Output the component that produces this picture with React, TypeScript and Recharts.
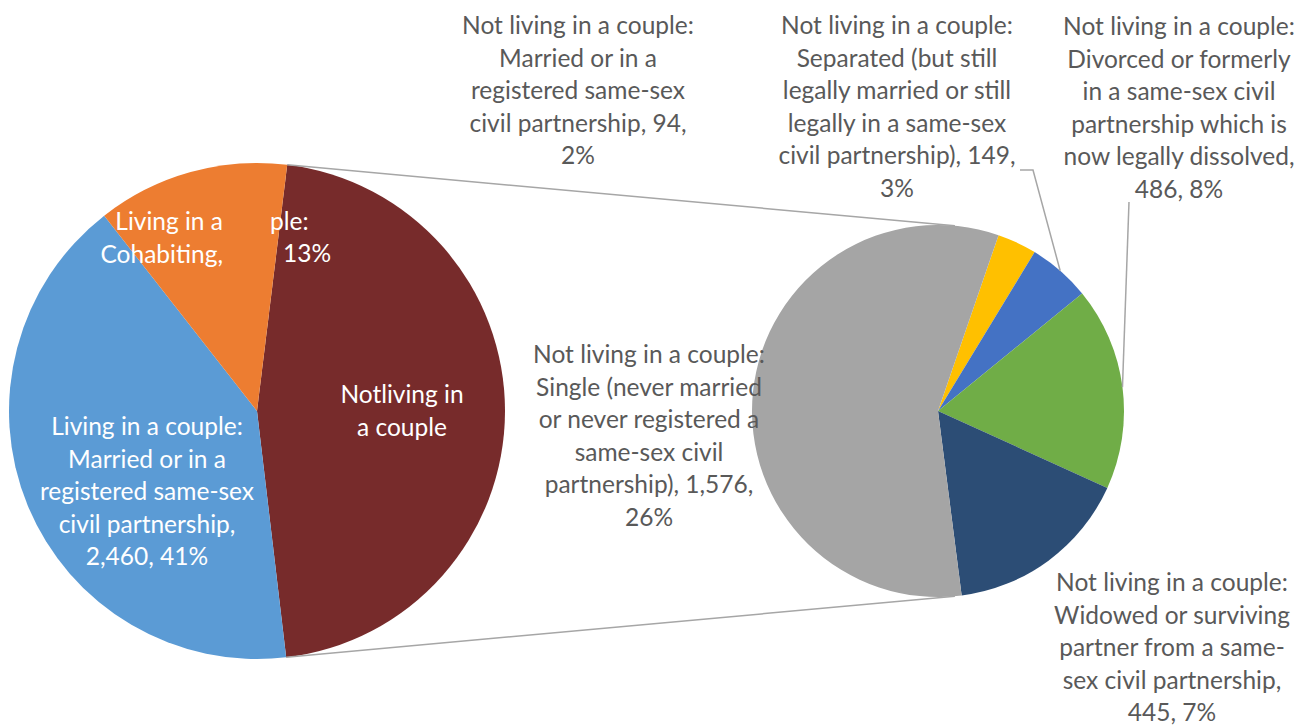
import React from 'react';
import { PieChart, Pie, Cell } from 'recharts';

// main pie (left)
const mainCategories = [
  'Not living in a couple',
  'Living in a couple: Married or in a registered same-sex civil partnership',
  'Living in a couple: Cohabiting',
];
const marriedValue = 2460;
const cohabitingValue = 745;

// breakdown of "Not living in a couple" (right pie)
const subCategories = [
  'Married or in a registered same-sex civil partnership',
  'Separated (but still legally married or still legally in a same-sex civil partnership)',
  'Divorced or formerly in a same-sex civil partnership which is now legally dissolved',
  'Widowed or surviving partner from a same-sex civil partnership',
  'Single (never married or never registered a same-sex civil partnership)',
];
const subValues = [94, 149, 486, 445, 1576];

// wrapped label text, {v} = value, {p} = percent
const subLabelLines = [
  ['Not living in a couple:', 'Married or in a', 'registered same-sex', 'civil partnership, {v},', '{p}'],
  ['Not living in a couple:', 'Separated (but still', 'legally married or still', 'legally in a same-sex', 'civil partnership), {v},', '{p}'],
  ['Not living in a couple:', 'Divorced or formerly', 'in a same-sex civil', 'partnership which is', 'now legally dissolved,', '{v}, {p}'],
  ['Not living in a couple:', 'Widowed or surviving', 'partner from a same-', 'sex civil partnership,', '{v}, {p}'],
  ['Not living in a couple:', 'Single (never married', 'or never registered a', 'same-sex civil', 'partnership), {v},', '{p}'],
];
const marriedLabelLines = ['Living in a couple:', 'Married or in a', 'registered same-sex', 'civil partnership,', '{v}, {p}'];
const notLivingLabelLines = ['Notliving in', 'a couple'];

const mainColors = ['#772B2B', '#5B9BD5', '#ED7D31'];
const subColors = ['#FFC000', '#4472C4', '#70AD47', '#2C4D75', '#A5A5A5'];

const notLivingTotal = subValues.reduce((a, b) => a + b, 0);
const grandTotal = notLivingTotal + marriedValue + cohabitingValue;

const mainData = [
  { name: mainCategories[0], value: notLivingTotal },
  { name: mainCategories[1], value: marriedValue },
  { name: mainCategories[2], value: cohabitingValue },
];
const subData = subCategories.map((name, i) => ({ name, value: subValues[i] }));

const LEFT = { cx: 257, cy: 411, r: 248 };
const RIGHT = { cx: 938, cy: 411, r: 186 };
const FONT = 'Lato, "Open Sans", sans-serif';
const FS = 24.5;
const LH = 32.6;
const GREY_TEXT = '#595959';
const LINE = '#A6A6A6';
const RAD = Math.PI / 180;

const subLabelPos = [
  { x: 578, y: 34 },
  { x: 897, y: 34, leader: [[1020, 170], [1033, 170]] },
  { x: 1179, y: 35, leader: [[1129, 202]] },
  { x: 1172, y: 591 },
  { x: 649, y: 363 },
];

const fmt = (v: number) => v.toLocaleString('en-US');
const pct = (v: number) => `${Math.round((v / grandTotal) * 100)}%`;
const fill = (s: string, v: number) => s.replace('{v}', fmt(v)).replace('{p}', pct(v));

const polar = (cx: number, cy: number, r: number, angle: number) => [
  cx + r * Math.cos(-angle * RAD),
  cy + r * Math.sin(-angle * RAD),
];

// tangent point on the right pie seen from (px, py); top = upper tangent
const tangent = (px: number, py: number, top: boolean) => {
  const dx = px - RIGHT.cx;
  const dy = py - RIGHT.cy;
  const d = Math.hypot(dx, dy);
  const phi = Math.atan2(dy, dx);
  const a = Math.acos(RIGHT.r / d);
  const p1 = [RIGHT.cx + RIGHT.r * Math.cos(phi + a), RIGHT.cy + RIGHT.r * Math.sin(phi + a)];
  const p2 = [RIGHT.cx + RIGHT.r * Math.cos(phi - a), RIGHT.cy + RIGHT.r * Math.sin(phi - a)];
  if (top) return p1[1] < p2[1] ? p1 : p2;
  return p1[1] > p2[1] ? p1 : p2;
};

const Lines = ({ x, y, lines, color, anchor = 'middle' }: any) => (
  <text x={x} y={y} textAnchor={anchor} fill={color} fontSize={FS} fontFamily={FONT}>
    {lines.map((l: string, i: number) => (
      <tspan key={i} x={x} y={y + i * LH}>
        {l}
      </tspan>
    ))}
  </text>
);

const renderMainLabel = (props: any) => {
  const { index, cx, cy, outerRadius, startAngle, endAngle, value } = props;
  if (index === 0) {
    const a = polar(cx, cy, outerRadius, startAngle);
    const b = polar(cx, cy, outerRadius, endAngle);
    const ta = tangent(a[0], a[1], a[1] < b[1]);
    const tb = tangent(b[0], b[1], b[1] < a[1]);
    return (
      <g key="l0">
        <line x1={a[0]} y1={a[1]} x2={ta[0]} y2={ta[1]} stroke={LINE} strokeWidth={1.5} />
        <line x1={b[0]} y1={b[1]} x2={tb[0]} y2={tb[1]} stroke={LINE} strokeWidth={1.5} />
        <Lines x={402} y={403} lines={notLivingLabelLines} color="#fff" />
      </g>
    );
  }
  if (index === 1) {
    return <Lines key="l1" x={147} y={435} lines={marriedLabelLines.map((l) => fill(l, value))} color="#fff" />;
  }
  // cohabiting label is partly hidden in the original
  return (
    <g key="l2">
      <Lines x={223} y={230} lines={['Living in a', 'Cohabiting,']} color="#fff" anchor="end" />
      <Lines x={270} y={230} lines={['ple:']} color="#fff" anchor="start" />
      <Lines x={283} y={262} lines={[pct(value)]} color="#fff" anchor="start" />
    </g>
  );
};

const renderSubLabel = (props: any) => {
  const { index, cx, cy, outerRadius, midAngle, value } = props;
  const pos = subLabelPos[index];
  const lines = subLabelLines[index].map((l) => fill(l, value));
  let leader = null;
  if (pos.leader) {
    const edge = polar(cx, cy, outerRadius, midAngle);
    const pts = [...pos.leader, edge].map((p) => p.join(',')).join(' ');
    leader = <polyline points={pts} fill="none" stroke={LINE} strokeWidth={1.5} />;
  }
  return (
    <g key={`s${index}`}>
      {leader}
      <Lines x={pos.x} y={pos.y} lines={lines} color={GREY_TEXT} />
    </g>
  );
};

export default function App() {
  return (
    <div style={{ position: 'absolute', left: 0, top: 0, background: '#fff' }}>
      <PieChart width={1312} height={727} margin={{ top: 0, right: 0, bottom: 0, left: 0 }}>
        <Pie
          data={mainData}
          dataKey="value"
          cx={LEFT.cx}
          cy={LEFT.cy}
          outerRadius={LEFT.r}
          startAngle={83}
          endAngle={-277}
          stroke="none"
          isAnimationActive={false}
          labelLine={false}
          label={renderMainLabel}
        >
          {mainData.map((d, i) => (
            <Cell key={d.name} fill={mainColors[i]} />
          ))}
        </Pie>
        <Pie
          data={subData}
          dataKey="value"
          cx={RIGHT.cx}
          cy={RIGHT.cy}
          outerRadius={RIGHT.r}
          startAngle={71}
          endAngle={-289}
          stroke="none"
          isAnimationActive={false}
          labelLine={false}
          label={renderSubLabel}
        >
          {subData.map((d, i) => (
            <Cell key={d.name} fill={subColors[i]} />
          ))}
        </Pie>
      </PieChart>
    </div>
  );
}
